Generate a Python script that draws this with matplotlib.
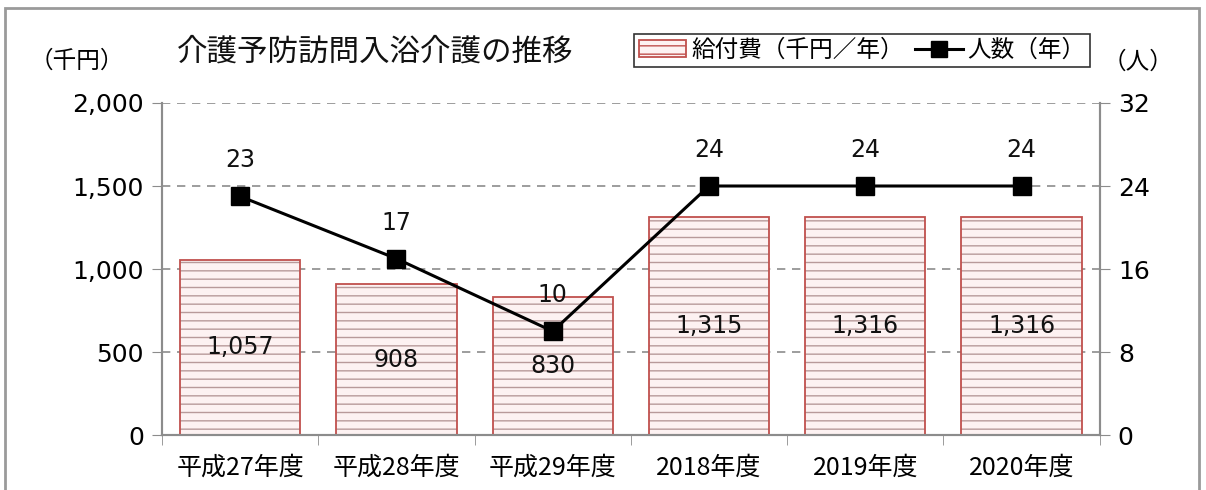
import matplotlib.pyplot as plt
from matplotlib.patches import Rectangle
from matplotlib.lines import Line2D
from matplotlib.patches import Patch
from matplotlib.ticker import FuncFormatter

plt.rcParams['font.family'] = ['Noto Sans CJK JP', 'DejaVu Sans']
NUM_FONT = ['DejaVu Sans']

years = ['平成27年度', '平成28年度', '平成29年度', '2018年度', '2019年度', '2020年度']
cost = [1057, 908, 830, 1315, 1316, 1316]      # 給付費（千円／年）
people = [23, 17, 10, 24, 24, 24]              # 人数（年）

fig = plt.figure(figsize=(12.06, 4.9), dpi=100)
ax = fig.add_axes([0.1343, 0.1122, 0.7776, 0.6776])
ax2 = ax.twinx()

x = range(len(years))
red = '#c0504d'
grey = '#8c8c8c'

# hatched fill first, red outline on top
ax.bar(x, cost, width=0.77, color='#fdf2f2', edgecolor='#b89a9a',
       linewidth=0, hatch='--', zorder=2)
ax.bar(x, cost, width=0.77, fill=False, edgecolor=red, linewidth=1.3, zorder=3)
for i, v in enumerate(cost):
    ax.text(i, v / 2, f'{v:,}', ha='center', va='center', fontsize=17,
            family=NUM_FONT, color='#111111', zorder=4)

ax.set_ylim(0, 2000)
ax.set_yticks(range(0, 2001, 500))
ax.yaxis.set_major_formatter(FuncFormatter(lambda v, p: f'{int(v):,}'))
ax.set_xlim(-0.5, len(years) - 0.5)
ax.set_xticks(list(x))
ax.set_xticklabels(years, fontsize=18)
ax.set_xticks([i + 0.5 for i in range(-1, len(years))], minor=True)
ax.tick_params(axis='x', which='major', length=0, pad=14)
ax.tick_params(axis='x', which='minor', length=7, color=grey, direction='out')
ax.tick_params(axis='y', length=7, color=grey, labelsize=18, pad=6)
for lbl in ax.get_yticklabels():
    lbl.set_family(NUM_FONT)
ax.yaxis.grid(True, linestyle=(0, (5, 4)), color=grey, linewidth=1.2, zorder=0)
ax.set_axisbelow(True)

ax2.plot(list(x), people, color='black', linewidth=2.2, marker='s',
         markersize=13, zorder=5)
for i, v in enumerate(people):
    ax2.annotate(str(v), (i, v), xytext=(0, 26), textcoords='offset points',
                 ha='center', va='center', fontsize=17, family=NUM_FONT,
                 color='#111111')
ax2.set_ylim(0, 32)
ax2.set_yticks(range(0, 33, 8))
ax2.tick_params(axis='y', length=7, color=grey, labelsize=18, pad=6)
for lbl in ax2.get_yticklabels():
    lbl.set_family(NUM_FONT)

for a in (ax, ax2):
    a.spines['top'].set_visible(False)
    for s in ('left', 'right', 'bottom'):
        a.spines[s].set_color(grey)
        a.spines[s].set_linewidth(1.5)

ax.set_zorder(ax2.get_zorder() - 1)
ax2.patch.set_visible(False)

fig.text(0.147, 0.893, '介護予防訪問入浴介護の推移', fontsize=22, ha='left',
         va='center', color='#111111')
fig.text(0.064, 0.876, '（千円）', fontsize=17, ha='center', va='center')
fig.text(0.944, 0.873, '（人）', fontsize=17, ha='center', va='center')

handles = [Patch(facecolor='#fdf2f2', edgecolor=red, hatch='--', linewidth=1.3),
           Line2D([0], [0], color='black', linewidth=2.2, marker='s', markersize=11)]
leg = fig.legend(handles, ['給付費（千円／年）', '人数（年）'], ncol=2,
                 loc='center', bbox_to_anchor=(0.715, 0.897), fontsize=17,
                 frameon=True, fancybox=False, edgecolor='black',
                 handlelength=2.0, handletextpad=0.2, columnspacing=0.5,
                 borderpad=0.2)
leg.get_frame().set_linewidth(1.2)

# outer chart border
fig.patches.append(Rectangle((0.004, -0.05), 0.99, 1.034, transform=fig.transFigure,
                             fill=False, edgecolor='#9a9a9a', linewidth=2))

fig.savefig('out.png', dpi=100)
